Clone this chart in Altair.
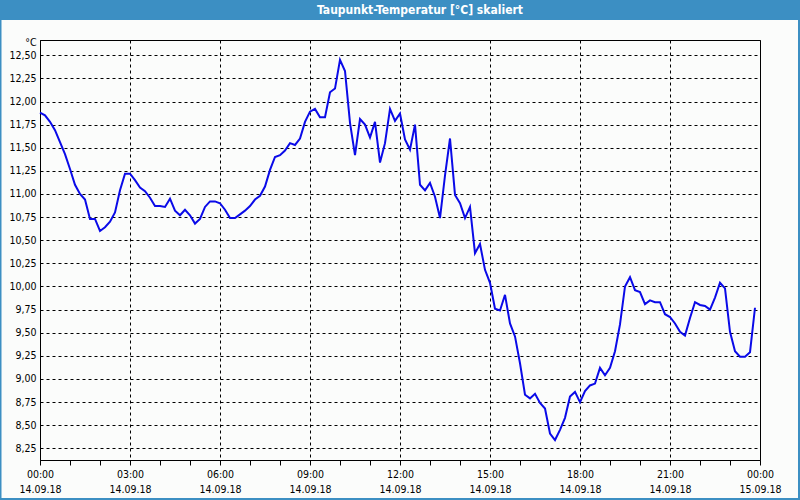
import altair as alt
import pandas as pd

# Dew point readings every 10 minutes, 14.09.18 00:00 .. 23:50 (°C)
values = [
    11.88, 11.85, 11.78, 11.69, 11.56, 11.43, 11.27, 11.10, 11.00, 10.94,
    10.73, 10.73, 10.60, 10.64, 10.70, 10.80, 11.04, 11.22, 11.22, 11.15,
    11.07, 11.03, 10.96, 10.87, 10.87, 10.86, 10.95, 10.82, 10.77, 10.83,
    10.77, 10.68, 10.73, 10.86, 10.92, 10.92, 10.90, 10.83, 10.74, 10.74,
    10.78, 10.82, 10.87, 10.94, 10.98, 11.08, 11.26, 11.40, 11.42, 11.47,
    11.55, 11.53, 11.60, 11.78, 11.89, 11.92, 11.83, 11.83, 12.10, 12.14,
    12.45, 12.33, 11.77, 11.42, 11.81, 11.75, 11.61, 11.78, 11.34, 11.55,
    11.92, 11.79, 11.87, 11.59, 11.48, 11.75, 11.10, 11.04, 11.12, 10.97,
    10.74, 11.20, 11.60, 10.99, 10.90, 10.74, 10.86, 10.36, 10.46, 10.18,
    10.04, 9.76, 9.74, 9.91, 9.60, 9.46, 9.17, 8.83, 8.79, 8.84,
    8.74, 8.68, 8.41, 8.34, 8.45, 8.58, 8.81, 8.86, 8.75, 8.87,
    8.93, 8.95, 9.12, 9.04, 9.12, 9.30, 9.59, 10.00, 10.10, 9.96,
    9.94, 9.81, 9.85, 9.83, 9.83, 9.70, 9.67, 9.60, 9.51, 9.47,
    9.66, 9.83, 9.80, 9.79, 9.75, 9.88, 10.04, 9.98, 9.51, 9.30,
    9.24, 9.24, 9.29, 9.77,
]
y_ticks = [8.25, 8.5, 8.75, 9.0, 9.25, 9.5, 9.75, 10.0, 10.25, 10.5,
           10.75, 11.0, 11.25, 11.5, 11.75, 12.0, 12.25, 12.5]
y_domain = [8.124, 12.665]
title_text = "Taupunkt-Temperatur [°C] skaliert"

times = pd.date_range("2018-09-14 00:00", periods=len(values), freq="10min")
df = pd.DataFrame({"time": times, "value": values})

hour_ticks = [alt.DateTime(year=2018, month=9, date=14 + h // 24, hours=h % 24) for h in range(25)]
x_domain = [hour_ticks[0], hour_ticks[-1]]

FONT = "DejaVu Sans Condensed, DejaVu Sans, sans-serif"
BLUE = "#3c8fc3"
BG = "#fbfcfb"
FS = 10.5

line = alt.Chart(df).mark_line(color="#0a0ae8", strokeWidth=2).encode(
    x=alt.X(
        "time:T",
        scale=alt.Scale(domain=x_domain, nice=False),
        axis=alt.Axis(
            values=hour_ticks,
            labelExpr="hours(datum.value) % 3 == 0 ? [timeFormat(datum.value, '%H:%M'), timeFormat(datum.value, '%d.%m.%y')] : ''",
            labelOverlap=False,
            labelFlush=False,
            labelBound=False,
            labelPadding=4,
            labelLineHeight=15,
            labelBaseline="top",
            labelFontSize=FS,
            labelColor="black",
            ticks=True,
            tickSize=5,
            tickColor="black",
            domainColor="black",
            grid=True,
            gridColor="black",
            gridDash=[3, 3],
            gridOpacity={"condition": {"test": "hours(datum.value) % 3 == 0", "value": 1}, "value": 0},
            title=None,
        ),
    ),
    y=alt.Y(
        "value:Q",
        scale=alt.Scale(domain=y_domain, nice=False, zero=False),
        axis=alt.Axis(
            values=y_ticks,
            labelExpr="replace(format(datum.value, '.2f'), '.', ',')",
            ticks=False,
            labelPadding=4,
            labelFontSize=FS,
            labelColor="black",
            domainColor="black",
            grid=True,
            gridColor="black",
            gridDash=[3, 3],
            title="°C",
            titleAngle=0,
            titleAlign="right",
            titleBaseline="middle",
            titleX=-4,
            titleY=2,
            titleFontWeight="normal",
            titleFontSize=FS,
            titleColor="black",
        ),
    ),
)

deco = alt.Data(values=[{"a": 1}])

bar = alt.Chart(deco).mark_rect(color=BLUE).encode(
    x=alt.value(-40), x2=alt.value(760), y=alt.value(-40), y2=alt.value(-20)
)
title = alt.Chart(deco).mark_text(
    text=title_text, font=FONT, fontSize=12, fontWeight="bold", color="white",
    align="center", baseline="middle",
).encode(x=alt.value(380), y=alt.value(-30))
border = alt.Chart(deco).mark_rect(fillOpacity=0, stroke=BLUE, strokeWidth=2).encode(
    x=alt.value(-39.5), x2=alt.value(759), y=alt.value(-40), y2=alt.value(459)
)

chart = alt.layer(line, bar, title, border).properties(
    width=720,
    height=420,
    autosize=alt.AutoSizeParams(type="none"),
    padding={"left": 40, "top": 40, "right": 40, "bottom": 40},
    background=BG,
).configure_view(
    stroke="black", strokeWidth=1, fill=BG
).configure_axis(
    labelFont=FONT, titleFont=FONT
)

chart.save("out.html", embed_options={"renderer": "svg", "actions": False})
